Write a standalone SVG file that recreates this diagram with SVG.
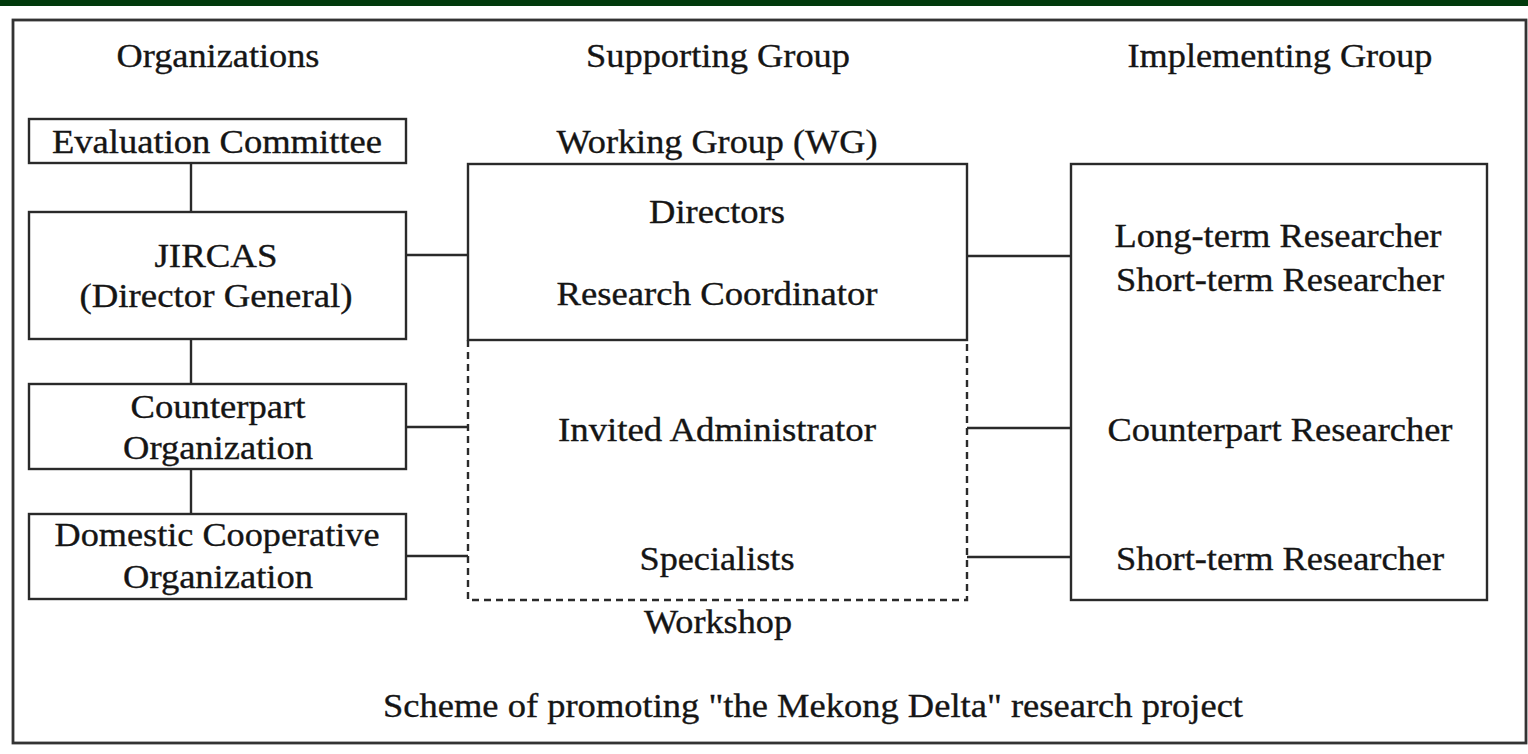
<svg xmlns="http://www.w3.org/2000/svg" width="1528" height="754" viewBox="0 0 1528 754">
<style>
text{font-family:"Liberation Serif","Times New Roman",Times,serif;font-size:34px;fill:#151515;stroke:#151515;stroke-width:0.35;text-anchor:middle}
.box{fill:none;stroke:#2a2a2a;stroke-width:2.4}
.dash{fill:none;stroke:#2a2a2a;stroke-width:2.4;stroke-dasharray:7 5}
.ln{stroke:#2a2a2a;stroke-width:2.4;fill:none}
</style>
<rect x="0" y="0" width="1528" height="754" fill="#ffffff"/>
<rect x="0" y="0" width="1528" height="6" fill="#013a0c"/>
<rect x="13" y="20" width="1513" height="723" fill="none" stroke="#333" stroke-width="2.8"/>
<g id="headers">
<text x="218" y="67" textLength="203" lengthAdjust="spacingAndGlyphs">Organizations</text>
<text x="718" y="67" textLength="264" lengthAdjust="spacingAndGlyphs">Supporting Group</text>
<text x="1280" y="67" textLength="305" lengthAdjust="spacingAndGlyphs">Implementing Group</text>
</g>
<g id="connectors">
<line class="ln" x1="191" y1="163" x2="191" y2="212"/>
<line class="ln" x1="191" y1="339" x2="191" y2="384"/>
<line class="ln" x1="191" y1="469" x2="191" y2="514"/>
<line class="ln" x1="406" y1="255" x2="468" y2="255"/>
<line class="ln" x1="406" y1="427" x2="468" y2="427"/>
<line class="ln" x1="406" y1="556" x2="468" y2="556"/>
<line class="ln" x1="967" y1="256" x2="1071" y2="256"/>
<line class="ln" x1="967" y1="428" x2="1071" y2="428"/>
<line class="ln" x1="967" y1="557" x2="1071" y2="557"/>
</g>
<g id="evaluation-committee">
<rect class="box" x="29" y="119" width="377" height="44"/>
<text x="217" y="153" textLength="330" lengthAdjust="spacingAndGlyphs">Evaluation Committee</text>
</g>
<g id="jircas">
<rect class="box" x="29" y="212" width="377" height="127"/>
<text x="216" y="267" textLength="123" lengthAdjust="spacingAndGlyphs">JIRCAS</text>
<text x="216" y="307" textLength="273" lengthAdjust="spacingAndGlyphs">(Director General)</text>
</g>
<g id="counterpart-organization">
<rect class="box" x="29" y="384" width="377" height="85"/>
<text x="218" y="418" textLength="175" lengthAdjust="spacingAndGlyphs">Counterpart</text>
<text x="218" y="459" textLength="190" lengthAdjust="spacingAndGlyphs">Organization</text>
</g>
<g id="domestic-cooperative-organization">
<rect class="box" x="29" y="514" width="377" height="85"/>
<text x="217" y="546" textLength="325" lengthAdjust="spacingAndGlyphs">Domestic Cooperative</text>
<text x="218" y="588" textLength="190" lengthAdjust="spacingAndGlyphs">Organization</text>
</g>
<g id="working-group">
<text x="717" y="153" textLength="321" lengthAdjust="spacingAndGlyphs">Working Group (WG)</text>
<rect class="box" x="468" y="164" width="499" height="176"/>
<text x="717" y="223" textLength="136" lengthAdjust="spacingAndGlyphs">Directors</text>
<text x="717" y="305" textLength="321" lengthAdjust="spacingAndGlyphs">Research Coordinator</text>
</g>
<g id="workshop">
<path class="dash" d="M468,340 V600 H967 V340"/>
<text x="717" y="441" textLength="318" lengthAdjust="spacingAndGlyphs">Invited Administrator</text>
<text x="717" y="570" textLength="155" lengthAdjust="spacingAndGlyphs">Specialists</text>
<text x="718" y="633" textLength="148" lengthAdjust="spacingAndGlyphs">Workshop</text>
</g>
<g id="implementing-group">
<rect class="box" x="1071" y="164" width="416" height="436"/>
<text x="1278" y="247" textLength="327" lengthAdjust="spacingAndGlyphs">Long-term Researcher</text>
<text x="1280" y="291" textLength="328" lengthAdjust="spacingAndGlyphs">Short-term Researcher</text>
<text x="1280" y="441" textLength="345" lengthAdjust="spacingAndGlyphs">Counterpart Researcher</text>
<text x="1280" y="570" textLength="328" lengthAdjust="spacingAndGlyphs">Short-term Researcher</text>
</g>
<g id="caption">
<text x="813" y="717" textLength="860" lengthAdjust="spacingAndGlyphs">Scheme of promoting "the Mekong Delta" research project</text>
</g>
</svg>
